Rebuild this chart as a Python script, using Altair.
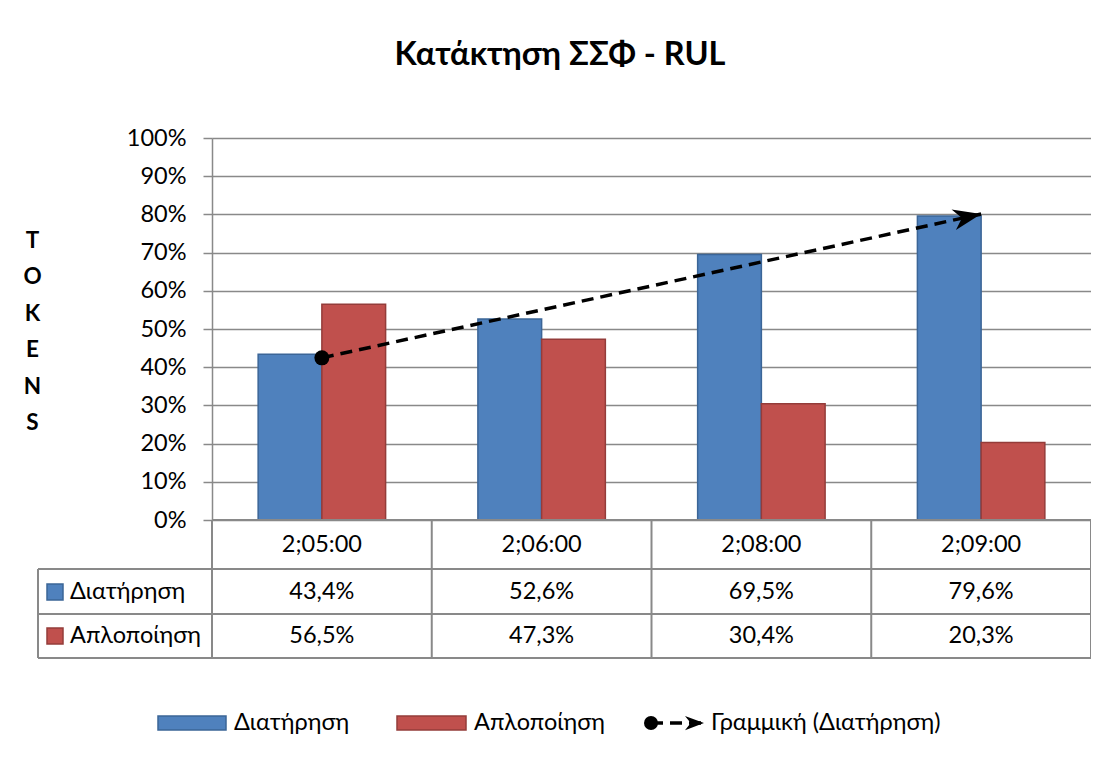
import altair as alt
import pandas as pd

# ---- data ----
categories = ["2;05:00", "2;06:00", "2;08:00", "2;09:00"]
series_names = ["Διατήρηση", "Απλοποίηση"]
diatirisi = [0.434, 0.526, 0.695, 0.796]
aplopoiisi = [0.565, 0.473, 0.304, 0.203]
trend_name = "Γραμμική (Διατήρηση)"
title_text = "Κατάκτηση ΣΣΦ - RUL"
y_title = ["T", "O", "K", "E", "N", "S"]
y_ticks = [i / 10 for i in range(11)]

# ---- style / layout ----
fills = ["#4f81bd", "#c0504d"]
strokes = ["#3b6597", "#943c3a"]
FONT = "Lato"
FS = 23.5
W, H = 879, 382
STEP = W / 4
GRID = "#898989"
LINE_W = 1.5

rows = []
for s, vals in zip(series_names, [diatirisi, aplopoiisi]):
    for i, (c, v) in enumerate(zip(categories, vals)):
        rows.append({"cat": c, "series": s, "v": v, "i": i + 1})
df = pd.DataFrame(rows)

x_enc = alt.X("cat:N", sort=categories,
              scale=alt.Scale(domain=categories, paddingInner=0.42, paddingOuter=0.21),
              axis=None)
y_enc = alt.Y("v:Q", scale=alt.Scale(domain=[0, 1]),
              axis=alt.Axis(values=y_ticks, tickCount=11, format=".0%", labelFont=FONT,
                            labelFontSize=FS, labelOverlap=False,
                            labelColor="black", labelPadding=17, tickSize=9, tickColor=GRID,
                            tickWidth=LINE_W, domainColor=GRID, domainWidth=LINE_W,
                            gridColor=GRID, gridWidth=LINE_W, grid=True,
                            title=y_title, titleAngle=0, titleX=-180, titleY=109,
                            titleAlign="center", titleBaseline="alphabetic", titleFont=FONT,
                            titleFontSize=FS - 1, titleFontWeight="bold", titleLineHeight=36.5,
                            titleColor="black"))
color_scale = alt.Scale(domain=series_names, range=fills)
stroke_scale = alt.Scale(domain=series_names, range=strokes)

base = alt.Chart(df)

bars = base.mark_bar(strokeWidth=1.5).encode(
    x=x_enc,
    xOffset=alt.XOffset("series:N", sort=series_names,
                        scale=alt.Scale(domain=series_names, paddingInner=0, paddingOuter=0)),
    y=y_enc,
    color=alt.Color("series:N", scale=color_scale, legend=None),
    stroke=alt.Stroke("series:N", scale=stroke_scale, legend=None),
)

cat_expr = "[" + ",".join("'" + c + "'" for c in categories) + "][round(datum.i) - 1]"
trend = (base.transform_filter(alt.datum.series == series_names[0])
         .transform_regression("i", "v", method="linear", extent=[1, len(categories)])
         .transform_calculate(cat=cat_expr))
trend_line = trend.mark_line(color="black", strokeWidth=3.5, strokeDash=[12, 7]).encode(
    x=x_enc, y=y_enc)
ARROW = "M0,0 L-2,-0.75 L-1.4,0 L-2,0.75 Z"
trend_start = trend.transform_filter("round(datum.i) == 1").mark_point(
    shape="circle", filled=True, size=225, color="black", opacity=1).encode(x=x_enc, y=y_enc)
trend_end = trend.transform_filter("round(datum.i) == %d" % len(categories)).mark_point(
    shape=ARROW, filled=True, size=784, color="black", opacity=1, angle=348).encode(x=x_enc, y=y_enc)

# ---- data table below the plot ----
T_TOP, R1, R2, T_BOT = 382, 431, 476, 520
LEFT = -174
hlines = pd.DataFrame([
    {"x": 0, "x2": W, "y": T_TOP},
    {"x": LEFT, "x2": W, "y": R1},
    {"x": LEFT, "x2": W, "y": R2},
    {"x": LEFT, "x2": W, "y": T_BOT},
])
vlines = pd.DataFrame([{"x": i * STEP, "y": T_TOP, "y2": T_BOT} for i in range(5)]
                      + [{"x": LEFT, "y": R1, "y2": T_BOT}])
h_rules = alt.Chart(hlines).mark_rule(color=GRID, strokeWidth=2).encode(
    x=alt.X("x:Q", scale=None), x2="x2:Q", y=alt.Y("y:Q", scale=None))
v_rules = alt.Chart(vlines).mark_rule(color=GRID, strokeWidth=2).encode(
    x=alt.X("x:Q", scale=None), y=alt.Y("y:Q", scale=None), y2="y2:Q")

header = alt.Chart(pd.DataFrame({"cat": categories})).mark_text(
    font=FONT, fontSize=FS, color="black", baseline="middle").encode(
    x=x_enc, y=alt.value(407), text="cat:N")

row_y = {series_names[0]: 454, series_names[1]: 498}
row_expr = "datum.series == '%s' ? %d : %d" % (series_names[0], row_y[series_names[0]], row_y[series_names[1]])
values_text = base.transform_calculate(
    lbl="replace(format(datum.v, '.1%'), '.', ',')", ry=row_expr).mark_text(
    font=FONT, fontSize=FS, color="black", baseline="middle").encode(
    x=x_enc, y=alt.Y("ry:Q", scale=None), text="lbl:N")

keys = pd.DataFrame({"series": series_names,
                     "x": [-165, -165], "x2": [-149, -149],
                     "y": [row_y[s] - 8 for s in series_names],
                     "y2": [row_y[s] + 8 for s in series_names],
                     "ty": [row_y[s] for s in series_names],
                     "tx": [-142, -142]})
key_rect = alt.Chart(keys).mark_rect(strokeWidth=1.5).encode(
    x=alt.X("x:Q", scale=None), x2="x2:Q", y=alt.Y("y:Q", scale=None), y2="y2:Q",
    color=alt.Color("series:N", scale=color_scale, legend=None),
    stroke=alt.Stroke("series:N", scale=stroke_scale, legend=None))
key_text = alt.Chart(keys).mark_text(font=FONT, fontSize=FS, color="black", align="left",
                                     baseline="middle").encode(
    x=alt.X("tx:Q", scale=None), y=alt.Y("ty:Q", scale=None), text="series:N")

# ---- bottom legend ----
LY = 585
leg = pd.DataFrame({"series": series_names,
                    "x": [-54, 185], "x2": [14, 254],
                    "y": [LY - 7, LY - 7], "y2": [LY + 7, LY + 7],
                    "tx": [22, 262], "ty": [LY, LY]})
leg_rect = alt.Chart(leg).mark_rect(strokeWidth=1.5).encode(
    x=alt.X("x:Q", scale=None), x2="x2:Q", y=alt.Y("y:Q", scale=None), y2="y2:Q",
    color=alt.Color("series:N", scale=color_scale, legend=None),
    stroke=alt.Stroke("series:N", scale=stroke_scale, legend=None))
leg_text = alt.Chart(leg).mark_text(font=FONT, fontSize=FS, color="black", align="left",
                                    baseline="middle").encode(
    x=alt.X("tx:Q", scale=None), y=alt.Y("ty:Q", scale=None), text="series:N")

tr = pd.DataFrame({"name": [trend_name], "cx": [439], "ax": [492], "lx": [499], "y": [LY]})
leg_tr_line = alt.Chart(tr).mark_rule(color="black", strokeWidth=3.5, strokeDash=[12, 7]).encode(
    x=alt.X("cx:Q", scale=None), x2="ax:Q", y=alt.Y("y:Q", scale=None))
leg_tr_dot = alt.Chart(tr).mark_point(shape="circle", filled=True, size=196, color="black",
                                      opacity=1).encode(
    x=alt.X("cx:Q", scale=None), y=alt.Y("y:Q", scale=None))
leg_tr_arrow = alt.Chart(tr).mark_point(shape=ARROW, filled=True, size=361, color="black",
                                        opacity=1).encode(
    x=alt.X("ax:Q", scale=None), y=alt.Y("y:Q", scale=None))
leg_tr_text = alt.Chart(tr).mark_text(font=FONT, fontSize=FS, color="black", align="left",
                                      baseline="middle").encode(
    x=alt.X("lx:Q", scale=None), y=alt.Y("y:Q", scale=None), text="name:N")

chart = alt.layer(
    bars, trend_line, trend_start, trend_end,
    h_rules, v_rules, header, values_text, key_rect, key_text,
    leg_rect, leg_text, leg_tr_line, leg_tr_dot, leg_tr_arrow, leg_tr_text,
).properties(
    width=W, height=H,
    title=alt.TitleParams(text=title_text, font=FONT, fontSize=32.5, fontWeight="bold",
                          anchor="middle", dx=-91.5, offset=29, baseline="alphabetic",
                          color="black"),
    padding={"left": 204, "top": 130, "right": 0, "bottom": 246},
    autosize=alt.AutoSizeParams(type="none"),
    background="white",
).configure_view(fill="#e6e6e6", stroke=None).configure(font=FONT)

chart.save("out.html", embed_options={"renderer": "svg", "actions": False})
